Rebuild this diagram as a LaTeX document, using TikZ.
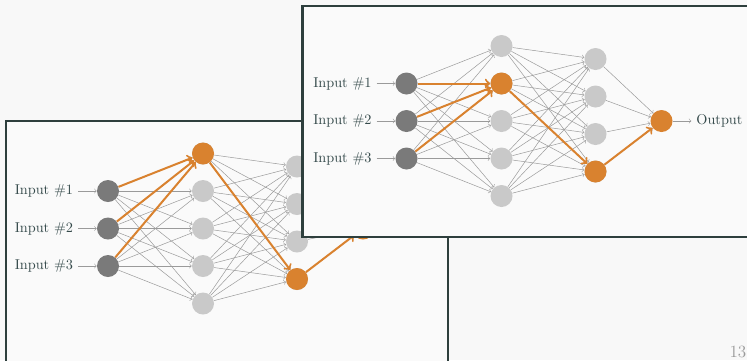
\documentclass[tikz,border=0pt]{standalone}
\usepackage{tikz}
\usetikzlibrary{arrows,shapes}
\usetikzlibrary{positioning}
\usetikzlibrary{calc}
\definecolor{bggray}{HTML}{F8F8F8}
\definecolor{framefill}{HTML}{FAFAFA}
\definecolor{framedark}{HTML}{2E3F3D}
\definecolor{textdark}{HTML}{34494A}
\definecolor{nodedark}{HTML}{7A7A7A}
\definecolor{nodelight}{HTML}{C9C9C9}
\definecolor{edgegray}{HTML}{9A9A9A}
\definecolor{hotorange}{HTML}{D9822F}
\tikzstyle{inputnode}=[circle,fill=nodedark,minimum size=15.4pt,inner sep=0pt]
\tikzstyle{hiddennode}=[circle,fill=nodelight,minimum size=15.4pt,inner sep=0pt]
\tikzstyle{hotnode}=[circle,fill=hotorange,minimum size=15.4pt,inner sep=0pt]
\tikzstyle{edge} = [draw,->,edgegray,line width=0.35pt]
\tikzstyle{hotedge} = [draw,->,hotorange,line width=1.4pt]
\tikzstyle{nodetext} = [text=textdark,font=\normalsize]
\tikzstyle{slide} = [draw=framedark,line width=1.5pt,fill=framefill]

\begin{document}
\begin{tikzpicture}[x=0.7pt,y=-0.7pt]

    \fill[bggray] (0,0) rectangle (747,360);
    \useasboundingbox (0,0) rectangle (747,360);
    \clip (0,0) rectangle (747,360);

    % back slide
    \path[slide] (6,120.7) rectangle (448,390);

    \foreach \pos/ \name in {{(108,191)/ai1},{(108,228.5)/ai2},{(108,266)/ai3}}
        \node[inputnode] (\name) at \pos {};
    \foreach \pos/ \name in {{(203,153.5)/ah1},{(203,191)/ah2},{(203,228.5)/ah3},{(203,266)/ah4},{(203,303.5)/ah5}}
        \node[hiddennode] (\name) at \pos {};
    \foreach \pos/ \name in {{(297,166.5)/ag1},{(297,204)/ag2},{(297,241.5)/ag3},{(297,279)/ag4}}
        \node[hiddennode] (\name) at \pos {};
    \node[hotnode] (ah1) at (203,153.5) {};
    \node[hotnode] (ag4) at (297,279) {};
    \node[hotnode] (ao) at (363,228.5) {};

    \foreach \n in {1,2,3}
        \node[nodetext,left=13pt of ai\n] (ain\n) {Input \#\n};

    % Connect layers with edges
    \foreach \n in {1,2,3}
        \path[edge] (ain\n) -- (ai\n);
    \foreach \source in {1,2,3}
        \foreach \dest in {1,...,5}
            \path[edge] (ai\source) -- (ah\dest);
    \foreach \source in {1,...,5}
        \foreach \dest in {1,...,4}
            \path[edge] (ah\source) -- (ag\dest);
    \foreach \source in {1,...,4}
        \path[edge] (ag\source) -- (ao);
    \foreach \source/ \dest in {ai1/ah1, ai2/ah1, ai3/ah1, ah1/ag4, ag4/ao}
        \path[hotedge] (\source) -- (\dest);

    % front slide
    \path[slide] (302.5,6.3) rectangle (770,237);

    \begin{scope}[shift={(298.5,-107.5)}]
    \foreach \pos/ \name in {{(108,191)/bi1},{(108,228.5)/bi2},{(108,266)/bi3}}
        \node[inputnode] (\name) at \pos {};
    \foreach \pos/ \name in {{(203,153.5)/bh1},{(203,191)/bh2},{(203,228.5)/bh3},{(203,266)/bh4},{(203,303.5)/bh5}}
        \node[hiddennode] (\name) at \pos {};
    \foreach \pos/ \name in {{(297,166.5)/bg1},{(297,204)/bg2},{(297,241.5)/bg3},{(297,279)/bg4}}
        \node[hiddennode] (\name) at \pos {};
    \node[hotnode] (bh2) at (203,191) {};
    \node[hotnode] (bg4) at (297,279) {};
    \node[hotnode] (bo) at (363,228.5) {};
    \end{scope}

    \foreach \n in {1,2,3}
        \node[nodetext,left=13pt of bi\n] (bin\n) {Input \#\n};
    \node[nodetext,right=13pt of bo] (bout) {Output};

    % Connect layers with edges
    \foreach \n in {1,2,3}
        \path[edge] (bin\n) -- (bi\n);
    \foreach \source in {1,2,3}
        \foreach \dest in {1,...,5}
            \path[edge] (bi\source) -- (bh\dest);
    \foreach \source in {1,...,5}
        \foreach \dest in {1,...,4}
            \path[edge] (bh\source) -- (bg\dest);
    \foreach \source in {1,...,4}
        \path[edge] (bg\source) -- (bo);
    \path[edge] (bo) -- (bout);
    \foreach \source/ \dest in {bi1/bh2, bi2/bh2, bi3/bh2, bh2/bg4, bg4/bo}
        \path[hotedge] (\source) -- (\dest);

    \node[text=edgegray,font=\large,anchor=south east,inner sep=1pt] (pagenum) at (748,360) {13};

\end{tikzpicture}
\end{document}
